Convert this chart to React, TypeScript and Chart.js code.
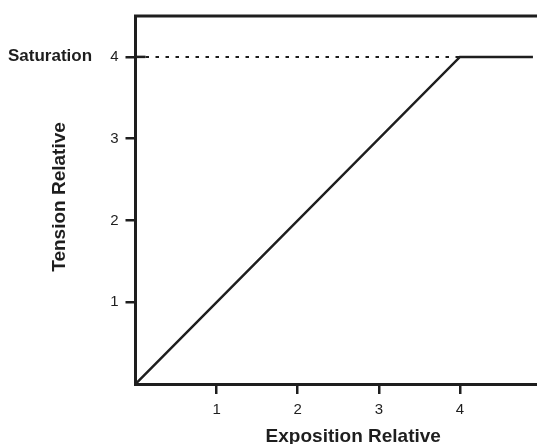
import React, { useEffect, useRef } from "react";
import { Chart, registerables } from "chart.js";
Chart.register(...registerables);

const exposition = [0, 4, 4.9];
const tension = [0, 4, 4];
const saturationX = [0, 4];
const saturationY = [4, 4];
const xTickValues = [1, 2, 3, 4];
const yTickValues = [1, 2, 3, 4];
const xTitle = "Exposition Relative";
const yTitle = "Tension Relative";
const saturationLabel = "Saturation";

export default function App() {
  const ref = useRef<HTMLCanvasElement>(null);
  useEffect(() => {
    const ink = "#1e1e1e";
    const family = "'Liberation Sans', Arial, sans-serif";
    const decor = {
      id: "decor",
      afterDraw(chart: any) {
        const { ctx, chartArea, scales } = chart;
        ctx.save();
        ctx.strokeStyle = ink;
        ctx.lineWidth = 3;
        ctx.beginPath();
        ctx.moveTo(chartArea.left - 1.5, chartArea.top);
        ctx.lineTo(chartArea.right, chartArea.top);
        ctx.stroke();
        // inner extension of the saturation tick
        const ySat = scales.y.getPixelForValue(saturationY[0]);
        ctx.lineWidth = 2.5;
        ctx.beginPath();
        ctx.moveTo(chartArea.left, ySat);
        ctx.lineTo(chartArea.left + 10, ySat);
        ctx.stroke();
        ctx.fillStyle = ink;
        ctx.font = `bold 19px ${family}`;
        ctx.textAlign = "center";
        ctx.textBaseline = "alphabetic";
        ctx.fillText(xTitle, (chartArea.left + chartArea.right) / 2 + 17, chart.height - 2);
        ctx.save();
        ctx.translate(65, (chartArea.top + chartArea.bottom) / 2 - 3);
        ctx.rotate(-Math.PI / 2);
        ctx.fillText(yTitle, 0, 0);
        ctx.restore();
        ctx.font = `bold 17px ${family}`;
        ctx.textAlign = "left";
        ctx.fillText(saturationLabel, 8, ySat + 4);
        ctx.restore();
      },
    };
    const chart = new Chart(ref.current!, {
      type: "scatter",
      data: {
        datasets: [
          {
            data: saturationX.map((x, i) => ({ x, y: saturationY[i] })),
            showLine: true,
            borderColor: ink,
            borderWidth: 2,
            borderDash: [3.5, 6.5],
            pointRadius: 0,
          },
          {
            data: exposition.map((x, i) => ({ x, y: tension[i] })),
            showLine: true,
            borderColor: ink,
            borderWidth: 2.5,
            pointRadius: 0,
          },
        ],
      },
      options: {
        animation: false,
        responsive: false,
        layout: { padding: { top: 16, right: 0, left: 0, bottom: 0 } },
        plugins: { legend: { display: false }, tooltip: { enabled: false } },
        scales: {
          x: {
            type: "linear",
            min: 0,
            max: 4.95,
            afterBuildTicks: (s: any) => {
              s.ticks = xTickValues.map((v) => ({ value: v }));
            },
            afterFit: (s: any) => {
              s.height = 60;
            },
            grid: { drawOnChartArea: false, drawTicks: true, tickLength: 10, color: ink, lineWidth: 2.5 },
            border: { display: true, color: ink, width: 3 },
            ticks: { color: ink, font: { size: 15, family }, padding: 7, maxRotation: 0, autoSkip: false },
          },
          y: {
            type: "linear",
            min: 0,
            max: 4.5,
            afterBuildTicks: (s: any) => {
              s.ticks = yTickValues.map((v) => ({ value: v }));
            },
            afterFit: (s: any) => {
              s.width = 135.5;
            },
            grid: { drawOnChartArea: false, drawTicks: true, tickLength: 10, color: ink, lineWidth: 2.5 },
            border: { display: true, color: ink, width: 3 },
            ticks: { color: ink, font: { size: 15, family }, padding: 7, autoSkip: false },
          },
        },
      },
      plugins: [decor],
    });
    return () => chart.destroy();
  }, []);
  return (
    <div style={{ position: "absolute", left: 0, top: 0, width: 537, height: 444, background: "#fff" }}>
      <canvas ref={ref} width={537} height={444} />
    </div>
  );
}
